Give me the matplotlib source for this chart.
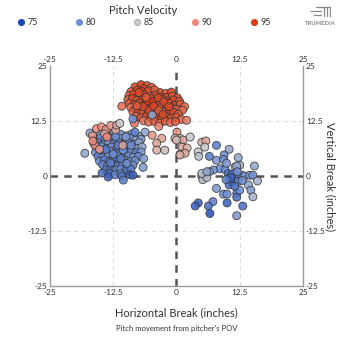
import matplotlib
matplotlib.use("Agg")
import matplotlib.pyplot as plt
import numpy as np
from matplotlib.colors import LinearSegmentedColormap
from matplotlib.lines import Line2D

plt.rcParams['font.family'] = ['Lato', 'DejaVu Sans']

# ---------------- data ----------------
legend_speeds = [75, 80, 85, 90, 95]
legend_colors = ['#1d45b3', '#6d8fd4', '#c9c9c9', '#ee8a78', '#d93a14']

# fastballs (red cluster)
red_x = [-8.2, -7.0, -5.8, -4.9, -6.5,
         -9.0, -7.8, -6.9, -5.5, -4.3, -3.2, -2.1, -1.0,
         -9.4, -8.5, -7.5, -6.4, -5.3, -4.1, -3.0, -2.0, -0.8, 0.2,
         -9.6, -8.7, -7.8, -6.8, -5.9, -4.9, -3.9, -2.8, -1.7, -0.6, 0.6,
         -9.3, -8.3, -7.3, -6.3, -5.4, -4.4, -3.4, -2.4, -1.4, -0.4, 0.8, 1.6,
         -9.0, -8.0, -7.0, -6.0, -5.0, -4.0, -3.0, -2.0, -1.0, 0.0, 1.2,
         -8.6, -7.6, -6.6, -5.6, -4.6, -3.6, -2.6, -1.6, -0.6, 0.4,
         -8.0, -7.0, -6.0, -5.0, -4.0, -3.0, -2.0, -1.0, 0.0, 1.0, 2.0,
         -6.5, -5.5, -4.3, -3.3, -2.2, -1.2, -0.2,
         -7.4, -6.0, -4.6, -3.6, -2.5, -5.5, -4.5, -3.5, -6.6, -7.8, -1.5, -2.7,
         -10.8, -3.5, -8.3]
red_y = [20.3, 20.8, 20.6, 20.2, 19.9,
         19.2, 19.5, 19.3, 19.4, 19.6, 19.0, 18.8, 19.1,
         18.3, 18.6, 18.2, 18.5, 18.1, 18.4, 18.0, 17.9, 18.2, 17.8,
         17.4, 17.6, 17.2, 17.5, 17.3, 17.6, 17.2, 17.4, 17.1, 17.3, 17.0,
         16.5, 16.3, 16.6, 16.2, 16.5, 16.3, 16.6, 16.2, 16.5, 16.1, 16.4, 15.8,
         15.6, 15.4, 15.7, 15.3, 15.6, 15.3, 15.6, 15.3, 15.6, 15.2, 15.0,
         14.6, 14.4, 14.7, 14.3, 14.6, 14.3, 14.6, 14.2, 14.5, 14.1,
         13.6, 13.3, 13.6, 13.3, 13.6, 13.2, 13.5, 13.2, 13.4, 12.9, 12.7,
         12.6, 12.3, 12.4, 12.0, 12.5, 12.2, 12.4,
         19.0, 17.9, 17.0, 17.8, 16.9, 15.0, 15.9, 14.9, 15.8, 16.0, 15.8, 14.0,
         15.9, 11.3, 12.0]
red_v = [94, 95, 94, 93, 94,
         93, 94, 95, 94, 93, 94, 93, 94,
         92, 94, 95, 94, 93, 94, 95, 94, 93, 94,
         93, 94, 93, 95, 94, 94, 93, 94, 95, 94, 93,
         93, 94, 94, 95, 94, 93, 94, 94, 93, 94, 93, 92,
         92, 93, 94, 94, 95, 94, 93, 94, 94, 93, 92,
         93, 94, 93, 94, 95, 94, 93, 94, 94, 93,
         92, 93, 94, 93, 94, 94, 93, 94, 93, 92, 91,
         91, 92, 93, 92, 93, 92, 93,
         94, 93, 95, 94, 94, 94, 94, 93, 94, 93, 94, 94,
         92, 90, 91]

# breaking balls / off-speed (left blue cluster)
blue_x = [-15.0, -13.5, -12.3, -11.0, -9.8, -8.8, -7.2,
          -16.0, -15.0, -14.0, -13.0, -12.0, -11.0, -10.0, -9.0, -8.0, -7.0,
          -16.3, -15.4, -14.4, -13.4, -12.4, -11.4, -10.4, -9.4, -8.4, -7.4,
          -15.8, -14.8, -13.8, -12.8, -11.8, -10.8, -9.8, -8.8, -7.8, -6.8,
          -16.0, -15.0, -14.0, -13.0, -12.0, -11.0, -10.0, -9.0, -8.0, -7.0,
          -15.5, -14.5, -13.5, -12.5, -11.5, -10.5, -9.5, -8.5, -7.5,
          -15.2, -14.2, -13.2, -12.2, -11.2, -10.2, -9.2, -8.2,
          -14.6, -13.6, -12.6, -11.6, -10.6, -9.6, -8.6,
          -14.0, -13.0, -12.0, -11.0, -10.0, -9.0,
          -13.2, -12.2, -11.0, -9.2,
          -14.7, -13.5, -10.8, -10.5, -8.6,
          -12.5, -11.5, -10.5, -13.0, -9.0, -14.0, -10.0, -12.0, -11.0, -9.8,
          -17.1, -6.2, -8.2, -18.1, -6.6, -4.8, -8.6, -6.5]
blue_y = [9.6, 9.3, 9.8, 9.5, 9.2, 9.6, 9.0,
          8.3, 8.7, 8.4, 8.6, 8.2, 8.5, 8.3, 8.6, 8.2, 8.4,
          7.4, 7.6, 7.2, 7.5, 7.3, 7.6, 7.2, 7.5, 7.3, 7.6,
          6.4, 6.7, 6.3, 6.6, 6.3, 6.6, 6.2, 6.5, 6.3, 6.6,
          5.4, 5.7, 5.3, 5.6, 5.3, 5.6, 5.3, 5.6, 5.3, 5.5,
          4.5, 4.3, 4.6, 4.3, 4.6, 4.3, 4.6, 4.3, 4.5,
          3.4, 3.7, 3.3, 3.6, 3.3, 3.6, 3.3, 3.5,
          2.6, 2.3, 2.6, 2.3, 2.6, 2.3, 2.5,
          1.4, 1.7, 1.4, 1.6, 1.3, 1.6,
          0.6, 0.3, 0.5, 0.3,
          0.7, -0.2, 0.0, -0.9, 0.2,
          5.0, 7.0, 5.9, 3.0, 7.0, 6.0, 8.9, 9.0, 4.0, 2.9,
          9.8, 10.0, 10.0, 5.2, 2.0, 13.9, 13.0, 4.0]
blue_v = [80, 79, 81, 80, 82, 80, 82,
          78, 80, 81, 79, 80, 81, 79, 80, 82, 81,
          80, 79, 80, 81, 79, 80, 81, 80, 79, 82,
          81, 80, 79, 80, 81, 80, 79, 80, 81, 82,
          80, 81, 79, 80, 79, 80, 81, 80, 79, 81,
          79, 80, 81, 79, 80, 79, 80, 81, 80,
          80, 79, 80, 78, 79, 80, 81, 80,
          79, 80, 78, 79, 80, 79, 80,
          79, 78, 79, 80, 78, 79,
          78, 79, 80, 77,
          78, 77, 78, 79, 77,
          80, 79, 80, 79, 80, 79, 81, 80, 79, 80,
          82, 82, 79, 82, 81, 82, 80, 81]

# mixed / transitional pitches (grey & light red)
mid_x = [0.1, 0.7, 1.3, 2.7, 1.1, 2.1, 0.7, 1.7, 5.0, 5.8, 5.6, 4.3, 4.4,
         -2.9, -3.9, -3.9, -2.3, -4.8, -0.3, 0.0, 0.7,
         -15.8, -14.8, -13.9, -14.2, -13.0, -16.6, -12.0, -11.8, -11.2,
         -16.1, -15.2, -16.5, -10.6, -13.7]
mid_y = [10.0, 8.6, 8.2, 8.9, 6.6, 6.4, 5.0, 5.2, 7.7, 8.0, 6.6, 5.5, 4.5,
         8.6, 7.5, 5.9, 5.9, 9.3, 8.6, 8.2, 4.8,
         10.8, 11.2, 10.6, 9.6, 11.5, 9.2, 10.5, 11.6, 12.0,
         7.0, 6.1, 8.0, 7.0, 8.9]
mid_v = [89, 87, 88, 85, 88, 87, 88, 88, 87, 88, 85, 85, 84,
         88, 88, 87, 86, 89, 87, 86, 87,
         90, 90, 89, 88, 89, 89, 88, 88, 85,
         90, 89, 90, 88, 90]

# arm-side breaking balls (right cluster)
right_x = [7.9, 10.4, 9.4, 7.9, 6.5, 12.2, 9.3, 11.6, 12.5, 15.4, 8.6, 7.3, 6.5,
           5.8, 5.0, 5.2, 6.0, 9.6, 10.2, 10.4, 10.9, 10.4, 11.2, 11.9, 12.9,
           13.5, 14.5, 15.1, 16.0, 14.2, 14.7, 15.1, 7.9, 9.3, 10.0, 11.9, 11.9,
           12.5, 13.1, 10.0, 7.2, 6.3, 4.3, 3.7, 6.6, 11.9, 11.9, 9.9,
           11.0, 12.2, 11.5, 13.0, 10.8, 12.0, 9.8, 5.0, 6.0]
right_y = [7.0, 6.1, 4.8, 3.6, 4.5, 4.2, 3.8, 2.1, 2.5, 2.3, 1.7, 1.4, 1.0,
           0.5, 0.0, -0.8, -0.3, 1.5, 0.6, -0.5, -1.5, -2.0, -0.9, 0.0, 0.2,
           0.0, 0.2, 0.2, -1.1, -2.0, -3.2, -4.7, -2.8, -4.1, -4.1, -3.9, -4.8,
           -3.2, -6.8, -6.1, -5.8, -6.8, -6.1, -6.8, -8.5, -9.0, 2.3, 2.9,
           0.4, -1.2, -2.3, -1.0, -0.3, 1.0, -0.8, 0.6, 1.0]
right_v = [79, 82, 80, 81, 79, 82, 80, 83, 83, 82, 80, 80, 82,
           83, 84, 84, 84, 80, 78, 77, 77, 78, 78, 79, 80,
           81, 81, 80, 83, 82, 81, 83, 81, 80, 80, 79, 78,
           80, 78, 77, 79, 78, 77, 77, 76, 81, 82, 81,
           78, 79, 78, 80, 77, 80, 79, 84, 82]

# ---------------- figure ----------------
cmap = LinearSegmentedColormap.from_list('velo', legend_colors)

fig = plt.figure(figsize=(3.54, 3.54), dpi=100)
ax = fig.add_axes([0.141, 0.192, 0.715, 0.621])

xs = red_x + blue_x + mid_x + right_x
ys = red_y + blue_y + mid_y + right_y
vs = red_v + blue_v + mid_v + right_v
ax.scatter(xs, ys, c=vs, cmap=cmap, vmin=75, vmax=95, s=33,
           edgecolors='#333333', linewidths=0.6, alpha=0.88, zorder=3)

ax.set_xlim(-25, 25)
ax.set_ylim(-25, 25)
ticks = [-25, -12.5, 0, 12.5, 25]
tick_labels = ['-25', '-12.5', '0', '12.5', '25']
ax.set_xticks(ticks)
ax.set_xticklabels(tick_labels)
ax.set_yticks(ticks)
ax.set_yticklabels(tick_labels)
ax.tick_params(axis='both', which='both', length=0, labelsize=6, colors='#333333',
               pad=2, top=False, labeltop=True, right=False, labelright=True)

for v in [-12.5, 12.5]:
    ax.axhline(v, color='#dddddd', lw=0.8, dashes=(4, 3), zorder=1)
    ax.axvline(v, color='#dddddd', lw=0.8, dashes=(4, 3), zorder=1)
ax.axhline(0, color='#555555', lw=1.8, dashes=(3, 2.5), zorder=2)
ax.axvline(0, color='#555555', lw=1.8, dashes=(3, 2.5), zorder=2)

for side in ['left', 'right', 'bottom']:
    ax.spines[side].set_color('#999999')
    ax.spines[side].set_linewidth(1.0)
ax.spines['top'].set_visible(False)

ax.set_xlabel('Horizontal Break (inches)', fontsize=8, color='#333333', labelpad=8)
ax.yaxis.set_label_position('right')
ax.set_ylabel('Vertical Break (inches)', fontsize=8, color='#333333', rotation=270,
              labelpad=7)
fig.text(0.5, 0.072, "Pitch movement from pitcher's POV", ha='center', va='center',
         fontsize=5.5, color='#333333')

# legend
handles = [Line2D([], [], marker='o', linestyle='', markersize=4.5,
                  markerfacecolor=c, markeredgecolor=('#aaaaaa' if s == 85 else c),
                  markeredgewidth=0.6, label=str(s))
           for s, c in zip(legend_speeds, legend_colors)]
leg = fig.legend(handles=handles, loc='upper center', bbox_to_anchor=(0.405, 1.0),
                 ncol=5, frameon=False, title='Pitch Velocity', fontsize=6.5,
                 title_fontsize=8, handletextpad=0.2, columnspacing=4.1,
                 handlelength=1.0, borderpad=0.1, labelspacing=0.2)
for t in leg.get_texts():
    t.set_color('#333333')
leg.get_title().set_color('#333333')

# logo
fig.text(0.905, 0.933, 'TRUMEDIA', ha='center', va='center', fontsize=4.2,
         color='#888888', fontweight='bold')
logo = fig.add_axes([0.875, 0.95, 0.06, 0.035])
logo.axis('off')
logo.set_xlim(0, 10)
logo.set_ylim(0, 5)
for yy, x0 in [(4.5, 3.0), (2.8, 0.5), (1.2, 2.0)]:
    logo.plot([x0, 5.5], [yy, yy], color='#888888', lw=0.9)
logo.plot([5.5, 9.5], [4.5, 4.5], color='#888888', lw=0.9)
for xx in [6.5, 8.0, 9.5]:
    logo.plot([xx, xx], [0.5, 4.5], color='#888888', lw=0.9)

fig.savefig('out.png', dpi=100)
